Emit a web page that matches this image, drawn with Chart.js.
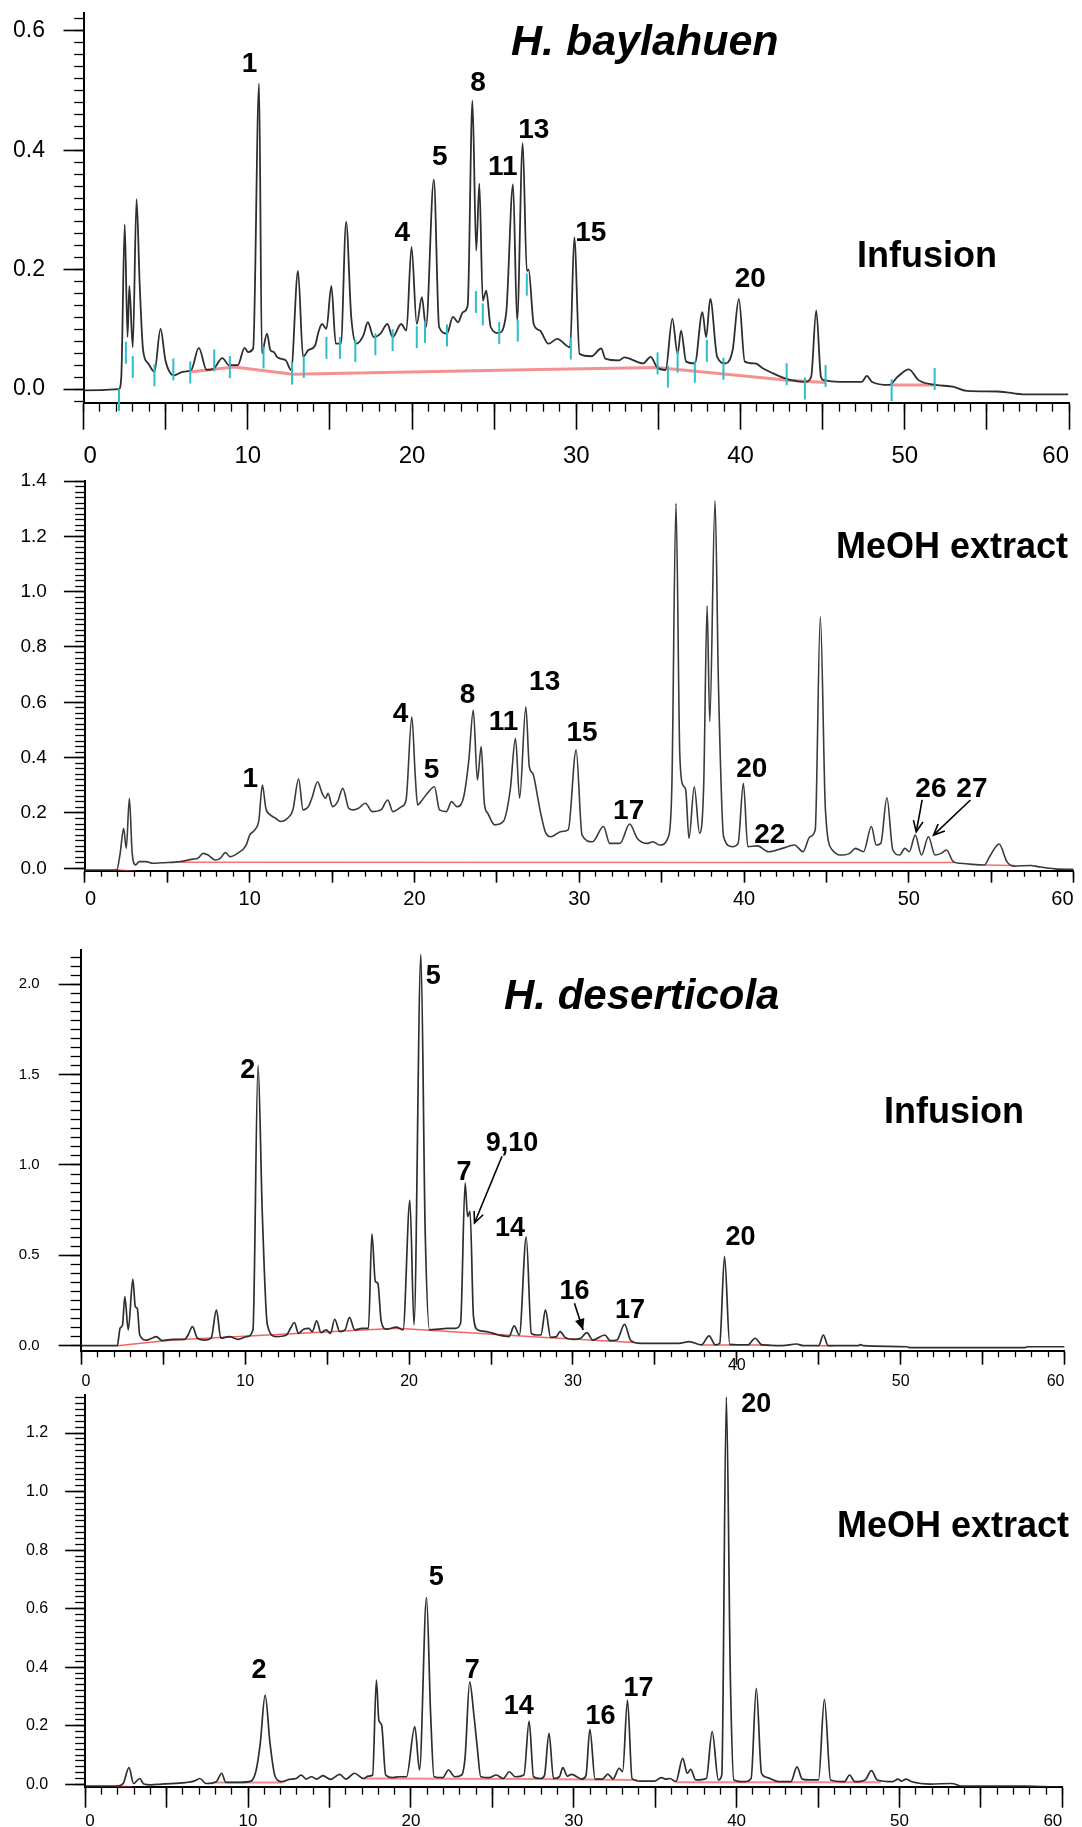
<!DOCTYPE html>
<html>
<head>
<meta charset="utf-8">
<title>HPLC profiles of H. baylahuen and H. deserticola</title>
<script src="https://cdn.jsdelivr.net/npm/chart.js@4.4.1/dist/chart.umd.min.js"></script>
<style>
  html, body { margin: 0; padding: 0; background: #fff; }
  #page { position: relative; width: 1082px; height: 1827px; overflow: hidden; }
  #page canvas { position: absolute; left: 0; }
</style>
</head>
<body>
<div id="page">
  <canvas id="bayInf" width="1082" height="470" style="top:0"></canvas>
  <canvas id="bayMeoh" width="1082" height="450" style="top:465px"></canvas>
  <canvas id="desInf" width="1082" height="478" style="top:915px"></canvas>
  <canvas id="desMeoh" width="1082" height="437" style="top:1390px"></canvas>
</div>
<script>
// ---- data: [retention time (min), absorbance] ----

const bayInfTrace = [[0,-0.002],[2.16,0.0],[2.3,0.02],[2.51,0.276],[2.68,0.087],[2.79,0.173],[3.0,0.07],[3.23,0.318],[3.42,0.176],[3.63,0.065],[3.94,0.043],[4.32,0.029],[4.69,0.101],[4.99,0.048],[5.51,0.023],[6.04,0.029],[6.56,0.032],[7.02,0.069],[7.5,0.032],[7.92,0.034],[8.45,0.052],[8.86,0.04],[9.39,0.04],[9.81,0.069],[10.02,0.062],[10.33,0.068],[10.69,0.512],[10.86,0.06],[11.17,0.093],[11.38,0.065],[11.59,0.062],[11.78,0.054],[12.0,0.051],[12.32,0.048],[12.64,0.032],[13.06,0.198],[13.37,0.054],[13.68,0.065],[14.1,0.073],[14.31,0.096],[14.52,0.109],[14.79,0.101],[15.09,0.173],[15.36,0.076],[15.67,0.076],[15.99,0.28],[16.3,0.121],[16.62,0.076],[17.04,0.09],[17.31,0.112],[17.67,0.087],[18.08,0.093],[18.5,0.109],[18.82,0.087],[19.34,0.109],[19.66,0.098],[19.97,0.238],[20.29,0.109],[20.6,0.154],[20.85,0.104],[21.33,0.351],[21.65,0.104],[22.13,0.093],[22.49,0.121],[22.8,0.112],[23.11,0.129],[23.39,0.14],[23.68,0.483],[23.91,0.232],[24.1,0.344],[24.31,0.148],[24.52,0.165],[24.79,0.104],[25.27,0.094],[25.73,0.126],[26.15,0.343],[26.4,0.115],[26.74,0.412],[26.99,0.198],[27.1,0.2],[27.41,0.109],[27.79,0.098],[28.31,0.076],[28.83,0.084],[29.63,0.07],[29.88,0.254],[30.2,0.059],[30.93,0.055],[31.52,0.068],[31.77,0.051],[32.61,0.048],[32.92,0.053],[34.07,0.043],[34.53,0.054],[34.91,0.037],[35.44,0.032],[35.85,0.118],[36.17,0.059],[36.38,0.098],[36.69,0.046],[37.22,0.043],[37.68,0.129],[37.91,0.087],[38.16,0.151],[38.58,0.054],[39.1,0.043],[39.52,0.065],[39.9,0.151],[40.26,0.046],[40.88,0.043],[41.41,0.034],[42.25,0.023],[43.08,0.015],[43.92,0.012],[44.3,0.02],[44.61,0.132],[44.9,0.02],[45.07,0.015],[46.02,0.012],[47.38,0.012],[47.69,0.022],[48.01,0.012],[49.06,0.007],[49.58,0.021],[50.25,0.033],[50.84,0.015],[51.88,0.007],[52.93,0.004],[53.77,-0.003],[55.66,-0.004],[57.33,-0.009],[59.95,-0.009]];
const bayInfBase = [
  [[6.56,0.029],[9.18,0.037],[12.74,0.025],[27.79,0.033],[34.91,0.036],[42.88,0.015],[45.18,0.011]],
  [[49.16,0.007],[51.78,0.007]]
];
// integration marks of the infusion run
const bayInfMarks = [[2.16,-0.018],[2.58,0.061],[3.0,0.037],[4.32,0.023],[5.47,0.033],[6.5,0.028],[7.96,0.048],[8.91,0.037],[10.96,0.053],[12.7,0.026],[13.41,0.037],[14.79,0.069],[15.61,0.069],[16.55,0.064],[17.77,0.075],[18.82,0.082],[20.29,0.087],[20.79,0.096],[22.13,0.09],[23.89,0.146],[24.31,0.125],[25.31,0.094],[26.44,0.098],[26.99,0.175],[29.67,0.068],[34.95,0.043],[35.58,0.021],[36.17,0.046],[37.22,0.029],[37.95,0.064],[38.96,0.034],[42.81,0.025],[43.92,0.001],[45.18,0.022],[49.2,-0.002],[51.82,0.017]];
const bayInfPeaks = [['1',10.11,0.532],['4',19.41,0.248],['5',21.69,0.375],['8',24.02,0.4995],['11',25.53,0.358],['13',27.42,0.4205],['15',30.88,0.248],['20',40.6,0.1705]];

const bayMeohTrace = [[0,-0.006],[1.93,-0.006],[2.14,0.054],[2.35,0.145],[2.51,0.072],[2.7,0.253],[2.87,0.054],[3.08,0.012],[3.29,0.024],[3.71,0.024],[4.13,0.018],[4.65,0.02],[5.8,0.024],[6.54,0.033],[6.85,0.036],[7.17,0.054],[7.48,0.048],[7.9,0.03],[8.21,0.036],[8.53,0.057],[8.8,0.042],[9.26,0.054],[9.79,0.084],[10.0,0.12],[10.31,0.139],[10.56,0.175],[10.77,0.301],[10.98,0.217],[11.25,0.193],[11.57,0.181],[11.88,0.169],[12.3,0.181],[12.62,0.211],[12.97,0.323],[13.24,0.211],[13.56,0.223],[13.77,0.253],[14.12,0.313],[14.4,0.271],[14.61,0.253],[14.75,0.271],[15.03,0.223],[15.34,0.241],[15.65,0.289],[16.01,0.217],[16.28,0.211],[16.6,0.217],[17.02,0.235],[17.44,0.205],[17.96,0.211],[18.38,0.247],[18.69,0.205],[19.22,0.223],[19.49,0.247],[19.84,0.548],[20.05,0.331],[20.19,0.229],[20.47,0.247],[20.78,0.271],[21.21,0.295],[21.52,0.211],[21.94,0.205],[22.25,0.241],[22.57,0.223],[22.99,0.259],[23.3,0.392],[23.57,0.572],[23.82,0.319],[24.05,0.44],[24.24,0.235],[24.45,0.199],[24.87,0.157],[25.39,0.169],[25.81,0.283],[26.13,0.47],[26.38,0.253],[26.76,0.584],[26.97,0.367],[27.18,0.343],[27.49,0.253],[27.66,0.199],[27.97,0.127],[28.28,0.114],[28.91,0.133],[29.33,0.139],[29.81,0.428],[30.17,0.12],[30.8,0.096],[31.47,0.151],[31.85,0.09],[32.47,0.09],[33.06,0.16],[33.52,0.108],[34.15,0.09],[34.47,0.096],[34.88,0.084],[35.41,0.114],[35.62,0.295],[35.87,1.319],[36.1,0.416],[36.29,0.301],[36.46,0.283],[36.66,0.108],[36.98,0.295],[37.3,0.127],[37.55,0.295],[37.76,0.949],[37.92,0.53],[38.24,1.328],[38.45,0.657],[38.76,0.114],[39.29,0.078],[39.64,0.09],[39.96,0.307],[40.23,0.078],[40.82,0.081],[41.49,0.06],[42.32,0.072],[43.06,0.084],[43.58,0.06],[44.0,0.114],[44.32,0.139],[44.63,0.91],[44.94,0.211],[45.36,0.066],[45.99,0.048],[46.41,0.054],[46.77,0.072],[47.25,0.06],[47.73,0.151],[48.02,0.084],[48.3,0.09],[48.67,0.255],[49.03,0.066],[49.45,0.048],[49.76,0.072],[50.03,0.06],[50.39,0.12],[50.77,0.048],[51.19,0.114],[51.59,0.048],[51.96,0.054],[52.28,0.066],[52.7,0.024],[53.12,0.018],[53.85,0.014],[54.58,0.012],[54.9,0.042],[55.48,0.088],[55.95,0.024],[56.36,0.008],[57.41,0.01],[57.83,0.006],[58.88,-0.002],[60.0,-0.004]];
const bayMeohBase = [
  [[1.8,-0.004],[3.1,-0.012]],
  [[5.8,0.022],[52.8,0.021]],
  [[54.6,0.012],[56.4,0.01]]
];
const bayMeohPeaks = [['1',10.04,0.295],['4',19.15,0.53],['5',21.04,0.325],['8',23.22,0.596],['11',25.4,0.5],['13',27.9,0.644],['15',30.17,0.461],['17',33.0,0.178],['20',40.47,0.331],['22',41.56,0.0925],['26',51.34,0.2566],['27',53.83,0.2566]];
const bayMeohArrows = [[50.81,0.247,50.45,0.132],[53.74,0.247,51.5,0.12]];

const desInfTrace = [[0,0],[2.19,0],[2.36,0.096],[2.51,0.115],[2.65,0.272],[2.86,0.087],[3.14,0.368],[3.29,0.216],[3.41,0.207],[3.56,0.059],[3.98,0.031],[4.3,0.041],[4.57,0.05],[4.93,0.028],[5.56,0.035],[6.3,0.035],[6.51,0.059],[6.78,0.105],[7.08,0.041],[7.56,0.031],[7.92,0.041],[8.24,0.198],[8.51,0.041],[9.04,0.05],[9.56,0.035],[10.09,0.05],[10.47,0.087],[10.78,1.551],[11.04,0.734],[11.35,0.115],[11.88,0.05],[12.51,0.059],[12.76,0.096],[13.0,0.128],[13.25,0.068],[13.56,0.091],[13.88,0.096],[14.09,0.078],[14.36,0.137],[14.62,0.072],[14.93,0.087],[15.2,0.068],[15.46,0.146],[15.77,0.078],[16.09,0.087],[16.36,0.157],[16.68,0.087],[17.14,0.096],[17.52,0.096],[17.73,0.619],[17.94,0.355],[18.09,0.346],[18.3,0.133],[18.62,0.091],[19.21,0.102],[19.63,0.087],[20.05,0.804],[20.3,0.115],[20.72,2.166],[20.98,0.641],[21.25,0.087],[21.78,0.091],[22.3,0.096],[22.83,0.096],[23.14,0.124],[23.42,0.9],[23.57,0.715],[23.72,0.743],[23.93,0.161],[24.2,0.087],[24.73,0.078],[25.46,0.059],[26.1,0.05],[26.41,0.109],[26.73,0.059],[27.15,0.601],[27.46,0.068],[27.78,0.059],[28.05,0.06],[28.32,0.198],[28.64,0.046],[28.99,0.05],[29.21,0.078],[29.52,0.046],[30.05,0.035],[30.47,0.041],[30.85,0.072],[31.21,0.031],[31.95,0.059],[32.26,0.028],[32.68,0.031],[33.15,0.118],[33.53,0.028],[34.16,0.013],[35.21,0.013],[36.47,0.013],[37.1,0.022],[37.84,0.004],[38.31,0.054],[38.69,0.004],[38.96,0.013],[39.25,0.494],[39.57,0.007],[40.69,0.004],[41.11,0.041],[41.53,0.004],[42.79,0],[43.64,0.009],[44.06,0],[45.0,0],[45.28,0.059],[45.57,0],[47.43,0],[47.53,0.006],[47.7,0],[50.37,-0.006],[50.59,-0.011],[57.54,-0.011],[57.75,-0.006],[60,-0.006]];
const desInfBase = [
  [[2.19,0],[4.93,0.026],[6.4,0.035],[19.25,0.096],[28.05,0.046],[33.74,0.017]],
  [[37.9,0.004],[39.9,0.004]],
  [[40.6,0.004],[42.0,0.004]],
  [[44.9,0],[45.9,0]]
];
const desInfPeaks = [['2',10.16,1.483],['5',21.48,2.0],['7',23.35,0.919],['9,10',26.28,1.076],['14',26.16,0.608],['16',30.1,0.257],['17',33.48,0.155],['20',40.23,0.558]];
const desInfArrows = [[25.67,1.048,23.99,0.679],[30.09,0.235,30.62,0.087]];

const desMeohTrace = [[0,-0.006],[1.91,-0.006],[2.33,0.003],[2.69,0.057],[2.97,0.003],[3.35,0.02],[3.6,0.001],[4.03,-0.002],[4.66,0.001],[6.15,0.006],[6.68,0.011],[7.04,0.02],[7.42,0.003],[8.05,0.009],[8.38,0.038],[8.63,0.007],[9.54,0.007],[10.18,0.011],[10.5,0.049],[10.75,0.14],[11.05,0.305],[11.35,0.14],[11.67,0.026],[12.1,0.009],[12.52,0.017],[12.95,0.02],[13.26,0.032],[13.57,0.018],[13.89,0.026],[14.21,0.018],[14.59,0.03],[15.06,0.017],[15.63,0.034],[16.01,0.018],[16.54,0.038],[17.08,0.02],[17.39,0.028],[17.65,0.032],[17.88,0.356],[18.03,0.22],[18.2,0.203],[18.45,0.032],[18.88,0.023],[19.3,0.026],[19.73,0.026],[20.24,0.197],[20.53,0.049],[20.96,0.638],[21.21,0.242],[21.42,0.026],[21.95,0.023],[22.31,0.049],[22.69,0.026],[23.12,0.032],[23.33,0.094],[23.61,0.35],[23.86,0.242],[24.07,0.129],[24.29,0.026],[24.82,0.023],[25.24,0.032],[25.67,0.02],[26.04,0.043],[26.41,0.026],[26.94,0.032],[27.26,0.216],[27.53,0.026],[27.96,0.02],[28.2,0.03],[28.48,0.174],[28.76,0.02],[29.12,0.026],[29.33,0.057],[29.61,0.028],[29.86,0.034],[30.5,0.018],[30.75,0.03],[30.99,0.188],[31.31,0.018],[31.77,0.018],[32.09,0.035],[32.41,0.018],[32.79,0.055],[33.0,0.043],[33.3,0.288],[33.58,0.02],[34.1,0.011],[34.95,0.011],[35.38,0.023],[35.63,0.018],[35.91,0.02],[36.27,0.009],[36.69,0.089],[36.97,0.038],[37.18,0.051],[37.5,0.015],[38.14,0.02],[38.5,0.18],[38.88,0.015],[39.09,0.032],[39.37,1.323],[39.62,0.356],[39.83,0.015],[40.47,0.009],[40.89,0.02],[41.21,0.328],[41.53,0.038],[41.85,0.024],[42.59,0.009],[43.33,0.009],[43.71,0.06],[44.03,0.018],[44.5,0.015],[45.03,0.015],[45.39,0.29],[45.77,0.015],[46.62,0.009],[46.94,0.032],[47.26,0.009],[47.89,0.015],[48.28,0.047],[48.64,0.015],[49.59,0.009],[49.91,0.018],[50.12,0.011],[50.4,0.018],[50.76,0.009],[51.92,0.001],[53.2,0.003],[53.83,-0.006],[57.65,-0.006],[60,-0.01]];
const desMeohBase = [
  [[1.91,-0.006],[2.9,-0.01]],
  [[7.85,0.006],[12.1,0.006]],
  [[17.08,0.02],[27.96,0.018],[33.9,0.015]],
  [[36.33,0.007],[48.85,0.007]]
];
const desMeohPeaks = [['2',10.68,0.364],['5',21.55,0.68],['7',23.77,0.364],['14',26.62,0.239],['16',31.64,0.205],['17',33.98,0.301],['20',41.21,1.272]];

// ---- drawing ----
const FONT = "'Liberation Sans', Arial, Helvetica, sans-serif";
Chart.defaults.font.family = FONT;
Chart.defaults.color = '#000';

const toXY = arr => arr.map(p => ({ x: p[0], y: p[1] }));

function arrowLine(ctx, x1, y1, x2, y2, filled) {
  ctx.beginPath();
  ctx.moveTo(x1, y1);
  ctx.lineTo(x2, y2);
  ctx.stroke();
  const ang = Math.atan2(y2 - y1, x2 - x1), len = 12, spread = 0.42;
  ctx.beginPath();
  ctx.moveTo(x2 - len * Math.cos(ang - spread), y2 - len * Math.sin(ang - spread));
  ctx.lineTo(x2, y2);
  ctx.lineTo(x2 - len * Math.cos(ang + spread), y2 - len * Math.sin(ang + spread));
  if (filled) { ctx.closePath(); ctx.fill(); } else { ctx.stroke(); }
}

// peak numbers, arrows, the panel captions and the odd raised tick label
const annotate = {
  id: 'annotate',
  afterDatasetsDraw(chart, args, opts) {
    const ctx = chart.ctx, xs = chart.scales.x, ys = chart.scales.y;
    ctx.save();
    ctx.fillStyle = '#000';
    ctx.strokeStyle = '#000';
    ctx.lineWidth = 1.6;
    ctx.textAlign = 'center';
    ctx.textBaseline = 'alphabetic';
    ctx.font = 'bold ' + opts.peakSize + 'px ' + FONT;
    (opts.peaks || []).forEach(p => {
      ctx.fillText(p[0], xs.getPixelForValue(p[1]), ys.getPixelForValue(p[2]));
    });
    (opts.arrows || []).forEach((a, i) => {
      arrowLine(ctx, xs.getPixelForValue(a[0]), ys.getPixelForValue(a[1]),
        xs.getPixelForValue(a[2]), ys.getPixelForValue(a[3]), (opts.filled || [])[i]);
    });
    if (opts.raised) {
      ctx.font = opts.raised.size + 'px ' + FONT;
      ctx.textBaseline = 'middle';
      ctx.fillText(String(opts.raised.value), xs.getPixelForValue(opts.raised.value), xs.top + opts.raised.dy);
      ctx.textBaseline = 'alphabetic';
    }
    ctx.textAlign = 'left';
    (opts.captions || []).forEach(c => {
      ctx.font = c.font + ' ' + FONT;
      ctx.fillText(c.text, c.left, c.base);
    });
    ctx.restore();
  }
};

function panel(id, c) {
  const datasets = [];
  if (c.marks) {
    datasets.push({
      data: toXY(c.marks), showLine: false, pointStyle: 'line', rotation: 90,
      pointRadius: 11, pointBorderColor: '#2cbfca', pointBorderWidth: 2,
      xAxisID: 'x', yAxisID: 'y', clip: false, order: 1
    });
  }
  datasets.push({
    data: toXY(c.trace), showLine: true, pointRadius: 0, borderColor: c.lineColor,
    borderWidth: c.lineWidth, cubicInterpolationMode: 'monotone',
    xAxisID: 'x', yAxisID: 'y', order: 2
  });
  c.base.forEach(seg => datasets.push({
    data: toXY(seg), showLine: true, pointRadius: 0, borderColor: c.baseColor,
    borderWidth: c.baseWidth, xAxisID: 'x', yAxisID: 'y', order: 3
  }));

  const noPad = s => { s.paddingLeft = 0; s.paddingRight = 0; s.paddingTop = 0; s.paddingBottom = 0; };
  const skip = c.raised ? c.raised.value : null;

  new Chart(document.getElementById(id), {
    type: 'scatter',
    data: { datasets: datasets },
    options: {
      responsive: false,
      animation: false,
      events: [],
      layout: { padding: { top: c.padTop, right: c.padRight, left: 0, bottom: 0 } },
      plugins: {
        legend: { display: false },
        tooltip: { enabled: false },
        annotate: { peaks: c.peaks, arrows: c.arrows, filled: c.filled, captions: c.captions,
                    peakSize: c.peakSize, raised: c.raised }
      },
      scales: {
        x: {
          type: 'linear', position: 'bottom', min: 0, max: 60, weight: 1,
          afterFit: s => { s.height = c.xH; noPad(s); },
          border: { color: '#000', width: 2 },
          grid: { drawOnChartArea: false, tickLength: c.xMaj, tickColor: '#000', tickWidth: 1.6 },
          ticks: {
            stepSize: 5, autoSkip: false, maxRotation: 0, minRotation: 0, align: 'inner',
            padding: c.xPad, color: '#000', font: { size: c.xFont, lineHeight: 1.2 },
            callback: v => (v % 10 === 0 && v !== skip ? String(v) : '')
          }
        },
        xm: {
          type: 'linear', position: 'bottom', min: 0, max: 60, weight: 0,
          afterFit: s => { s.height = 0; noPad(s); },
          border: { display: false },
          grid: { drawOnChartArea: false, tickLength: c.xMin, tickColor: '#000', tickWidth: 1.3 },
          ticks: { display: false, stepSize: 1, autoSkip: false }
        },
        y: {
          type: 'linear', position: 'left', min: c.yMin, max: c.yMax, weight: 1,
          afterFit: s => { s.width = c.yW; noPad(s); },
          border: { color: '#000', width: 2 },
          grid: { drawOnChartArea: false, tickLength: c.yMaj, tickColor: '#000', tickWidth: 1.6 },
          ticks: {
            stepSize: c.yStep, includeBounds: false, autoSkip: false, padding: c.yPad,
            color: '#000', font: { size: c.yFont }, callback: v => v.toFixed(1)
          }
        },
        ym: {
          type: 'linear', position: 'left', min: c.yMin, max: c.yMax, weight: 0,
          afterFit: s => { s.width = 0; noPad(s); },
          border: { display: false },
          grid: { drawOnChartArea: false, tickLength: c.yMin2, tickColor: '#000', tickWidth: 1.3 },
          ticks: { display: false, stepSize: c.yMinorStep, includeBounds: false, autoSkip: false }
        }
      }
    },
    plugins: [annotate]
  });
}

// H. baylahuen, infusion
panel('bayInf', {
  trace: bayInfTrace, base: bayInfBase, marks: bayInfMarks, peaks: bayInfPeaks, peakSize: 28,
  lineColor: '#2e2e2e', lineWidth: 1.8, baseColor: 'rgba(238,55,55,0.55)', baseWidth: 3,
  padTop: 11, padRight: 10.6, yW: 83.5, xH: 67.3,
  yMin: -0.0228, yMax: 0.63, yStep: 0.2, yMinorStep: 0.02, yMaj: 20, yMin2: 9.3, yPad: 18.5, yFont: 23,
  xMaj: 27, xMin: 9, xPad: 12.4, xFont: 24,
  captions: [
    { text: 'H. baylahuen', left: 511, base: 55, font: 'italic bold 43px' },
    { text: 'Infusion', left: 857, base: 267, font: 'bold 36px' }
  ]
});

// H. baylahuen, MeOH extract
panel('bayMeoh', {
  trace: bayMeohTrace, base: bayMeohBase, peaks: bayMeohPeaks, peakSize: 28,
  arrows: bayMeohArrows, filled: [false, false],
  lineColor: '#3a3a3a', lineWidth: 1.6, baseColor: 'rgba(240,70,70,0.75)', baseWidth: 1.5,
  padTop: 16, padRight: 8.4, yW: 84.9, xH: 44.3,
  yMin: -0.0087, yMax: 1.4, yStep: 0.2, yMinorStep: 0.02, yMaj: 21, yMin2: 9.7, yPad: 17, yFont: 19,
  xMaj: 12, xMin: 6, xPad: 4.5, xFont: 20,
  captions: [
    { text: 'MeOH extract', left: 836, base: 93, font: 'bold 36px' }
  ]
});

// H. deserticola, infusion (the "40" label sits higher in the original)
panel('desInf', {
  trace: desInfTrace, base: desInfBase, peaks: desInfPeaks, peakSize: 27,
  arrows: desInfArrows, filled: [false, true],
  lineColor: '#2e2e2e', lineWidth: 1.7, baseColor: 'rgba(240,60,60,0.8)', baseWidth: 1.5,
  padTop: 35, padRight: 17.5, yW: 81.4, xH: 42.3,
  yMin: -0.028, yMax: 2.19, yStep: 0.5, yMinorStep: 0.05, yMaj: 22.7, yMin2: 10.7, yPad: 19, yFont: 15,
  xMaj: 14, xMin: 6.5, xPad: 7.7, xFont: 16,
  raised: { value: 40, size: 16, dy: 15.3 },
  captions: [
    { text: 'H. deserticola', left: 504, base: 94, font: 'italic bold 42px' },
    { text: 'Infusion', left: 884, base: 208, font: 'bold 36px' }
  ]
});

// H. deserticola, MeOH extract
panel('desMeoh', {
  trace: desMeohTrace, base: desMeohBase, peaks: desMeohPeaks, peakSize: 27,
  lineColor: '#2e2e2e', lineWidth: 1.7, baseColor: 'rgba(240,70,70,0.65)', baseWidth: 2,
  padTop: 5, padRight: 19.7, yW: 85.2, xH: 40.3,
  yMin: -0.008, yMax: 1.33, yStep: 0.2, yMinorStep: 0.02, yMaj: 20, yMin2: 10, yPad: 17, yFont: 16,
  xMaj: 21, xMin: 8, xPad: 3.1, xFont: 17,
  captions: [
    { text: 'MeOH extract', left: 837, base: 147, font: 'bold 36px' }
  ]
});
</script>
</body>
</html>
